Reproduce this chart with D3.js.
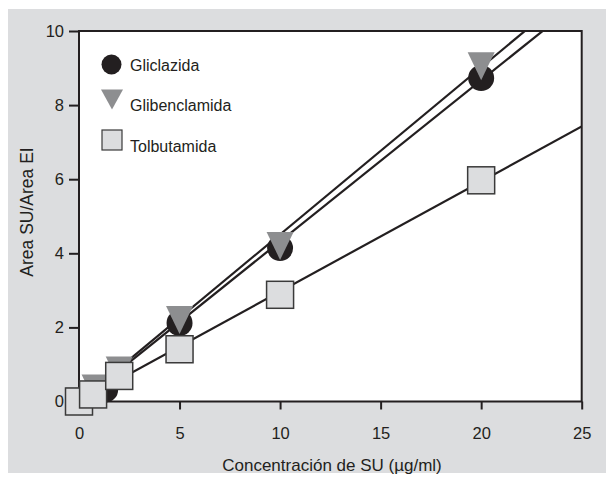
<!DOCTYPE html>
<html><head><meta charset="utf-8">
<script src="https://cdn.jsdelivr.net/npm/d3@7"></script>
<style>body{margin:0;background:#fff}svg{display:block}text{font-family:"Liberation Sans",Arial,sans-serif;fill:#231f20}</style>
</head><body><svg id="c" width="606" height="479"></svg>
<script>
// Data
const seriesNames = ["Gliclazida", "Glibenclamida", "Tolbutamida"];
const gliclazidaX = [0, 1.3, 2, 5, 10, 20];
const gliclazidaY = [0, 0.32, 0.75, 2.12, 4.14, 8.73];
const glibenclamidaX = [0, 0.8, 2, 5, 10, 20];
const glibenclamidaY = [0, 0.35, 0.84, 2.2, 4.2, 9.05];
const tolbutamidaX = [0, 0.7, 2, 5, 10, 20];
const tolbutamidaY = [0, 0.19, 0.69, 1.41, 2.88, 5.97];
// regression lines: [intercept, slope]
const gliclazidaFit = [-0.03, 0.435];
const glibenclamidaFit = [0, 0.451];
const tolbutamidaFit = [0, 0.297];
const xTicks = [0, 5, 10, 15, 20, 25];
const yTicks = [0, 2, 4, 6, 8, 10];
const xTitle = "Concentración de SU (µg/ml)";
const yTitle = "Area SU/Area EI";

const svg = d3.select("#c");
svg.append("rect").attr("x", 8).attr("y", 9).attr("width", 598).attr("height", 464).attr("fill", "#dcdddf");

const L = 79, R = 581.7, T = 31, B = 401.5;
const x = d3.scaleLinear().domain([0, 25]).range([L, R]);
const y = d3.scaleLinear().domain([0, 10]).range([B, T]);
const ink = "#231f20";

svg.append("rect").attr("x", L).attr("y", T).attr("width", R - L).attr("height", B - T).attr("fill", "#fff");

const gx = svg.append("g").attr("transform", `translate(0,${B})`)
  .call(d3.axisBottom(x).tickValues(xTicks).tickSize(8).tickPadding(18).tickFormat(d3.format("d")));
const gy = svg.append("g").attr("transform", `translate(${L},0)`)
  .call(d3.axisLeft(y).tickValues(yTicks).tickSize(10).tickPadding(5).tickFormat(d3.format("d")));
[gx, gy].forEach(g => {
  g.select(".domain").remove();
  g.selectAll("line").attr("stroke", ink).attr("stroke-width", 2);
  g.selectAll("text").attr("font-size", 16.5).attr("fill", ink).style("font-family", '"Liberation Sans",Arial,sans-serif');
});

svg.append("rect").attr("x", L).attr("y", T).attr("width", R - L).attr("height", B - T)
  .attr("fill", "none").attr("stroke", ink).attr("stroke-width", 2);

svg.append("text").attr("x", 332).attr("y", 471).attr("text-anchor", "middle").attr("font-size", 17).text(xTitle);
svg.append("text").attr("transform", "translate(33,212) rotate(-90)").attr("text-anchor", "middle").attr("font-size", 17.5).text(yTitle);

// lines
svg.append("clipPath").attr("id", "clip").append("rect").attr("x", L).attr("y", T).attr("width", R - L).attr("height", B - T);
const lg = svg.append("g").attr("clip-path", "url(#clip)");
[gliclazidaFit, glibenclamidaFit, tolbutamidaFit].forEach(f => {
  const pts = [0, 25].map(v => [x(v), y(f[0] + f[1] * v)]);
  lg.append("path").attr("d", d3.line()(pts)).attr("stroke", ink).attr("stroke-width", 2.2).attr("fill", "none");
});

const tri = (cx, cy, w, h) => `M${cx - w / 2},${cy - h / 2}L${cx + w / 2},${cy - h / 2}L${cx},${cy + h / 2}Z`;

// markers
svg.append("g").selectAll("circle").data(d3.zip(gliclazidaX, gliclazidaY)).join("circle")
  .attr("cx", d => x(d[0])).attr("cy", d => y(d[1])).attr("r", 13).attr("fill", ink);
svg.append("g").selectAll("path").data(d3.zip(glibenclamidaX, glibenclamidaY)).join("path")
  .attr("d", d => tri(x(d[0]), y(d[1]), 27, 28)).attr("fill", "#8d8e90");
svg.append("g").selectAll("rect").data(d3.zip(tolbutamidaX, tolbutamidaY)).join("rect")
  .attr("x", d => x(d[0]) - 13.5).attr("y", d => y(d[1]) - 13.5).attr("width", 27).attr("height", 27)
  .attr("fill", "#dcdddf").attr("stroke", "#3a3a3a").attr("stroke-width", 1.5);

// legend
const leg = svg.append("g");
leg.append("circle").attr("cx", 111.5).attr("cy", 64.5).attr("r", 10).attr("fill", ink);
leg.append("path").attr("d", tri(112, 99.5, 22, 20)).attr("fill", "#8d8e90");
leg.append("rect").attr("x", 102).attr("y", 130).attr("width", 20).attr("height", 20).attr("fill", "#dcdddf").attr("stroke", "#3a3a3a").attr("stroke-width", 1.2);
[[seriesNames[0], 71], [seriesNames[1], 111], [seriesNames[2], 151.5]].forEach(([t, yy]) => {
  leg.append("text").attr("x", 130).attr("y", yy).attr("font-size", 16).text(t);
});
</script></body></html>
